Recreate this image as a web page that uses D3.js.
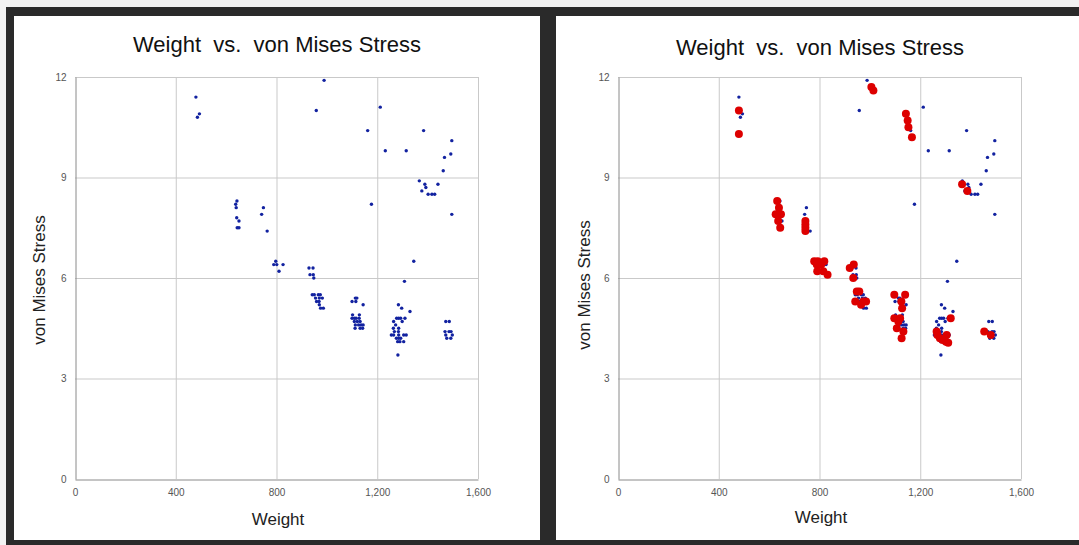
<!DOCTYPE html>
<html lang="en">
<head>
    <meta charset="UTF-8">
    <script src="https://cdnjs.cloudflare.com/ajax/libs/d3/7.8.5/d3.min.js"></script>
    <title>Weight vs. von Mises Stress</title>
    <style>
        html, body {
            margin: 0;
            padding: 0;
            background-color: #f2f2f2;
            overflow: hidden;
        }

        .chart-title {
            font-family: "Liberation Sans", Arial, sans-serif;
            font-size: 22px;
            fill: #111;
            white-space: pre;
        }

        .axis-title {
            font-family: "Liberation Sans", Arial, sans-serif;
            font-size: 17px;
            fill: #222;
        }

        .text-axis {
            font-family: "Liberation Sans", Arial, sans-serif;
            font-size: 10px;
            fill: #555;
        }
    </style>
</head>
<body>
    <script>
        // blue series (both panels)
        const weight = [
            480, 494, 486, 989, 958, 1212, 1162, 1232, 1315, 1384,
            1496, 1492, 1467, 1462, 1367, 1389, 1377, 1393, 1402, 1417,
            1428, 1441, 1177, 1496, 1345, 1308, 1330,
            643, 638, 640, 642, 651, 644, 651, 748, 741, 763,
            797, 789, 801, 826, 810,
            929, 945, 933, 946, 948,
            942, 950, 966, 974, 955, 970, 982, 959, 969, 970, 975, 986,
            1113, 1119, 1100, 1115, 1144, 1102, 1129,
            1100, 1109, 1116, 1128, 1109, 1121, 1132,
            1113, 1126, 1136, 1144, 1112, 1132, 1142,
            1284, 1297, 1277, 1285, 1293, 1310, 1265, 1299, 1273, 1264, 1285,
            1268, 1284, 1256, 1265, 1285, 1305, 1315, 1276, 1285, 1293,
            1281, 1290, 1305, 1282,
            1472, 1486, 1469, 1485, 1493, 1472, 1498, 1476, 1492
        ];
        const stress = [
            11.4, 10.9, 10.8, 11.9, 11.0, 11.1, 10.4, 9.8, 9.8, 10.4,
            10.1, 9.7, 9.6, 9.2, 8.9, 8.8, 8.6, 8.7, 8.5, 8.5,
            8.5, 8.8, 8.2, 7.9, 6.5, 5.9, 5.0,
            8.3, 8.2, 8.1, 7.8, 7.7, 7.5, 7.5, 8.1, 7.9, 7.4,
            6.5, 6.4, 6.4, 6.4, 6.2,
            6.3, 6.3, 6.1, 6.1, 6.0,
            5.5, 5.5, 5.5, 5.5, 5.4, 5.4, 5.4, 5.3, 5.3, 5.2, 5.1, 5.1,
            5.4, 5.4, 5.3, 5.3, 5.2, 4.9, 4.9,
            4.8, 4.8, 4.8, 4.8, 4.7, 4.7, 4.7,
            4.6, 4.6, 4.6, 4.6, 4.5, 4.5, 4.5,
            5.2, 5.1, 4.8, 4.8, 4.8, 4.8, 4.7, 4.7, 4.6, 4.5, 4.5,
            4.4, 4.4, 4.3, 4.3, 4.3, 4.3, 4.3, 4.2, 4.2, 4.2,
            4.1, 4.1, 4.1, 3.7,
            4.7, 4.7, 4.4, 4.4, 4.4, 4.3, 4.3, 4.2, 4.2
        ];

        // red series (right panel only)
        const redWeight = [
            480, 480, 1006, 1014,
            632, 639, 626, 647, 636, 644,
            744, 744, 744, 744,
            779, 793, 819, 789, 807, 791, 815, 832,
            936, 920, 934,
            948, 958, 942, 974, 985, 965,
            1143, 1150, 1153, 1167,
            1366, 1387,
            1097, 1140, 1125, 1128, 1097, 1120, 1113, 1107, 1133, 1126,
            1321, 1265, 1268, 1278, 1289, 1302, 1311, 1305,
            1454, 1480
        ];
        const redStress = [
            11.0, 10.3, 11.7, 11.6,
            8.3, 8.1, 7.9, 7.9, 7.7, 7.5,
            7.7, 7.6, 7.5, 7.4,
            6.5, 6.5, 6.5, 6.4, 6.4, 6.2, 6.2, 6.1,
            6.4, 6.3, 6.0,
            5.6, 5.6, 5.3, 5.3, 5.3, 5.2,
            10.9, 10.7, 10.5, 10.2,
            8.8, 8.6,
            5.5, 5.5, 5.3, 5.1, 4.8, 4.8, 4.7, 4.5, 4.4, 4.2,
            4.8, 4.4, 4.3, 4.2, 4.15, 4.1, 4.07, 4.3,
            4.4, 4.3
        ];

        const xTicks = [0, 400, 800, 1200, 1600];
        const yTicks = [0, 3, 6, 9, 12];

        const title = 'Weight  vs.  von Mises Stress';
        const xTitle = 'Weight';
        const yTitle = 'von Mises Stress';

        const width = 1079;
        const height = 545;
        const plotWidth = 403;
        const plotHeight = 402;

        const colorBlue = '#1222a0';
        const colorRed = '#dd0000';
        const colorGrid = '#c9c9c9';
        const colorAxis = '#8a8a8a';

        const svg = d3.select('body')
            .append('svg')
            .attr('width', width)
            .attr('height', height);

        // тёмная рамка вокруг двух панелей
        svg.append('rect')
            .attr('x', 6)
            .attr('y', 7)
            .attr('width', width - 6)
            .attr('height', height - 7)
            .attr('fill', '#2a2a2a');

        const x = d3.scaleLinear().domain([0, 1600]).range([0, plotWidth]);
        const y = d3.scaleLinear().domain([0, 12]).range([plotHeight, 0]);

        const drawPanel = function(p) {
            svg.append('rect')
                .attr('x', p.left)
                .attr('y', 16)
                .attr('width', p.width)
                .attr('height', 524)
                .attr('fill', '#ffffff');

            svg.append('text')
                .attr('class', 'chart-title')
                .attr('x', p.titleX)
                .attr('y', p.titleY)
                .attr('text-anchor', 'middle')
                .text(title);

            const g = svg.append('g')
                .attr('transform', 'translate(' + p.plotX + ',' + 77 + ')');

            // сетка
            g.selectAll('.grid-x')
                .data(xTicks.slice(1))
                .enter()
                .append('line')
                .attr('x1', function(d) { return x(d) + 0.5 })
                .attr('x2', function(d) { return x(d) + 0.5 })
                .attr('y1', 0)
                .attr('y2', plotHeight)
                .style('stroke', colorGrid);

            g.selectAll('.grid-y')
                .data(yTicks.slice(1))
                .enter()
                .append('line')
                .attr('x1', 0)
                .attr('x2', plotWidth)
                .attr('y1', function(d) { return y(d) + 0.5 })
                .attr('y2', function(d) { return y(d) + 0.5 })
                .style('stroke', colorGrid);

            // оси
            const xAxis = d3.axisBottom(x)
                .tickValues(xTicks)
                .tickSize(0)
                .tickPadding(9)
                .tickFormat(d3.format(','));

            const yAxis = d3.axisLeft(y)
                .tickValues(yTicks)
                .tickSize(0)
                .tickPadding(9);

            g.append('g')
                .attr('transform', 'translate(0,' + (plotHeight + 0.5) + ')')
                .call(xAxis);

            g.append('g')
                .attr('transform', 'translate(0.5,0)')
                .call(yAxis);

            g.selectAll('.domain').attr('stroke', colorAxis);
            g.selectAll('.tick text').attr('class', 'text-axis');

            // точки
            g.selectAll('.dot-blue')
                .data(weight.map(function(w, i) { return {w: w, s: stress[i]} }))
                .enter()
                .append('circle')
                .attr('cx', function(d) { return x(d.w) })
                .attr('cy', function(d) { return y(d.s) })
                .attr('r', 1.7)
                .attr('fill', colorBlue);

            if (p.showRed) {
                g.selectAll('.dot-red')
                    .data(redWeight.map(function(w, i) { return {w: w, s: redStress[i]} }))
                    .enter()
                    .append('circle')
                    .attr('cx', function(d) { return x(d.w) })
                    .attr('cy', function(d) { return y(d.s) })
                    .attr('r', 4)
                    .attr('fill', colorRed);
            }

            // подписи осей
            svg.append('text')
                .attr('class', 'axis-title')
                .attr('x', p.titleX + 1)
                .attr('y', p.xTitleY)
                .attr('text-anchor', 'middle')
                .text(xTitle);

            svg.append('text')
                .attr('class', 'axis-title')
                .attr('text-anchor', 'middle')
                .attr('transform', 'translate(' + p.yTitleX + ',' + p.yTitleY + ') rotate(-90)')
                .text(yTitle);
        };

        drawPanel({left: 14, width: 526, plotX: 75, titleX: 277, titleY: 52, xTitleY: 525, yTitleX: 45, yTitleY: 280, showRed: false});
        drawPanel({left: 556, width: 523, plotX: 618, titleX: 820, titleY: 55, xTitleY: 523, yTitleX: 590, yTitleY: 285, showRed: true});
    </script>
</body>
</html>
